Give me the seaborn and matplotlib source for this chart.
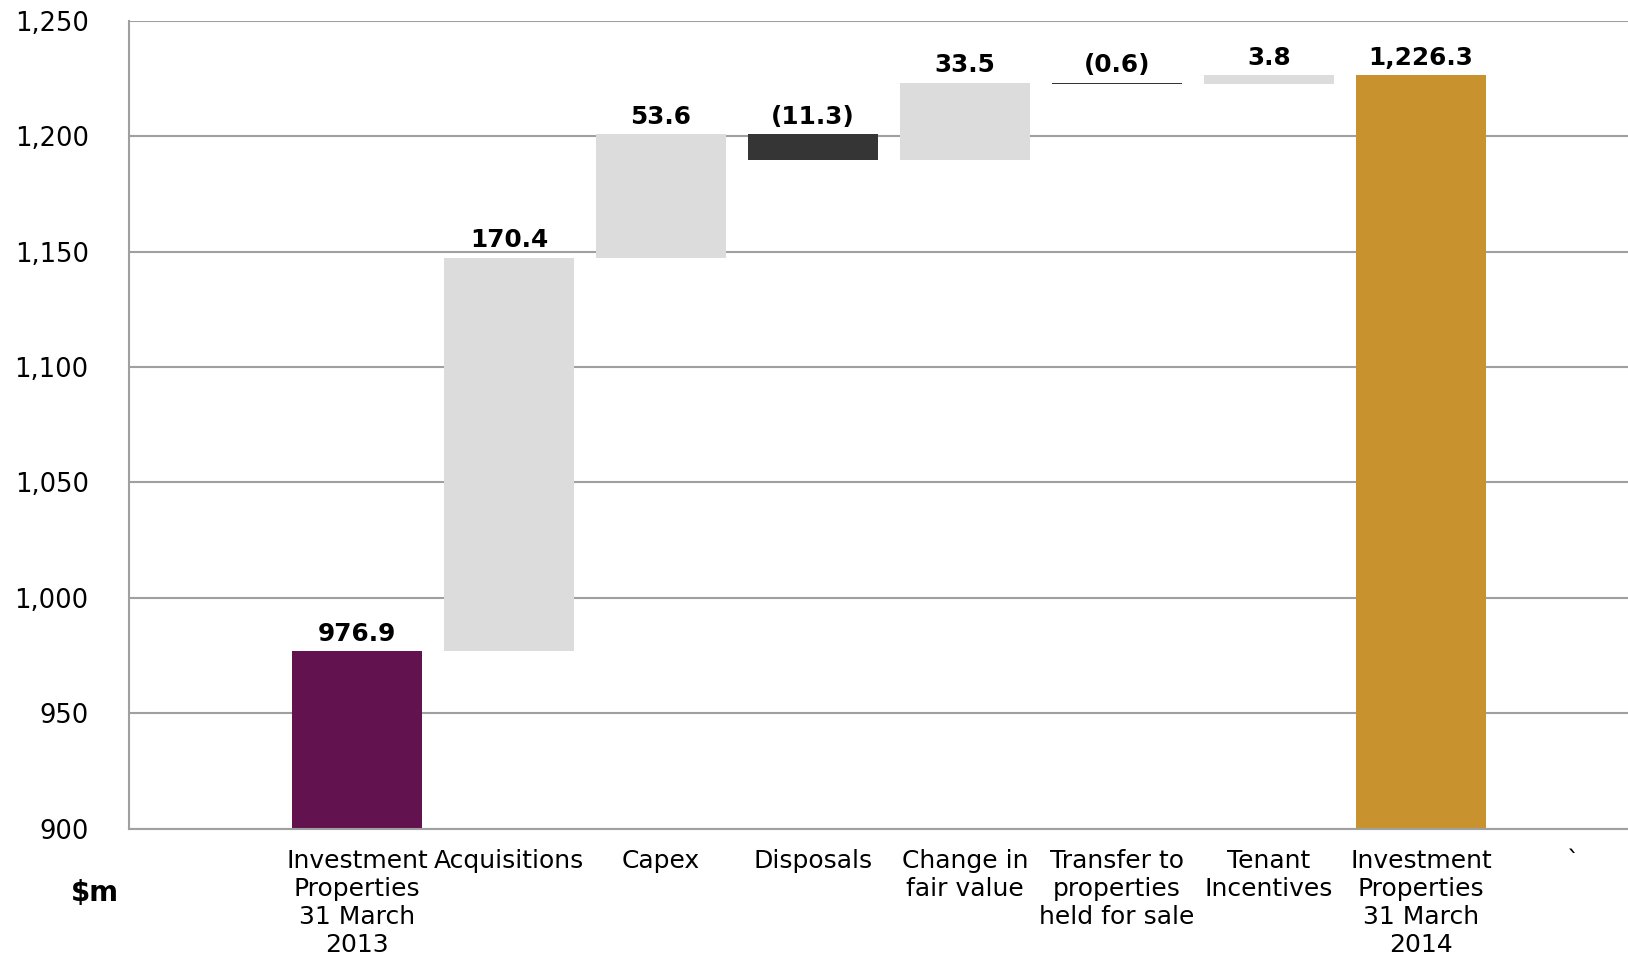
import numpy as np
import pandas as pd
import matplotlib
matplotlib.use("Agg")
import matplotlib.pyplot as plt
from matplotlib.ticker import FuncFormatter
import seaborn as sns

# Investment property bridge, $m
categories = ["",
              "Investment\nProperties\n31 March\n2013",
              "Acquisitions",
              "Capex",
              "Disposals",
              "Change in\nfair value",
              "Transfer to\nproperties\nheld for sale",
              "Tenant\nIncentives",
              "Investment\nProperties\n31 March\n2014",
              "`"]
opening_value = 976.9
movement_values = [170.4, 53.6, -11.3, 33.5, -0.6, 3.8]
closing_value = 1226.3
value_labels = ["976.9", "170.4", "53.6", "(11.3)", "33.5", "(0.6)", "3.8", "1,226.3"]
y_ticks = [900, 950, 1000, 1050, 1100, 1150, 1200, 1250]

PURPLE = "#62134F"
GOLD = "#C8922E"
LIGHT = "#DCDCDC"
DARK = "#353535"
GRID = "#A0A0A0"

sns.set_style("white")
plt.rcParams["font.family"] = ["DejaVu Sans"]

# Build waterfall segments: (category, bottom, height, colour)
segments = [(categories[1], 0.0, opening_value, PURPLE)]
running = opening_value
for cat, mv in zip(categories[2:8], movement_values):
    low = running + min(mv, 0)
    segments.append((cat, low, abs(mv), LIGHT if mv >= 0 else DARK))
    running += mv
segments.append((categories[8], 0.0, closing_value, GOLD))

fig = plt.figure(figsize=(16.28, 9.58), dpi=100)
ax = fig.add_axes([129 / 1628, (958 - 828.5) / 958, 1 - 129 / 1628, (828.5 - 20.8) / 958])

for cat, base, height, colour in segments:
    df = pd.DataFrame({"item": [cat], "value": [height]})
    sns.barplot(data=df, x="item", y="value", order=categories, color=colour,
                saturation=1, width=0.85, errorbar=None, bottom=base,
                linewidth=0, ax=ax)

# value labels above each bar
for (cat, base, height, colour), text in zip(segments, value_labels):
    xpos = categories.index(cat)
    ax.annotate(text, (xpos, base + height), xytext=(0, 7.5),
                textcoords="offset points", ha="center", va="baseline",
                fontsize=17.8, fontweight="bold", color="black")

ax.set_ylim(900, 1250)
ax.set_yticks(y_ticks)
ax.yaxis.set_major_formatter(FuncFormatter(lambda v, _: f"{v:,.0f}"))

# category labels at centres, boundary ticks between categories
ax.set_xticks(np.arange(len(categories)), labels=categories,
              linespacing=1.2, ha="center")
ax.set_xticks(np.arange(-0.5, len(categories), 1), minor=True)
# plot area runs to the right edge of the figure
ax.set_xlim(-0.5, -0.5 + (1628 - 129) / 152)

ax.set_xlabel("")
ax.set_ylabel("")

ax.yaxis.grid(True, color=GRID, linewidth=1.5)
ax.xaxis.grid(False)
ax.set_axisbelow(True)

for side in ["top", "right"]:
    ax.spines[side].set_visible(False)
for side in ["left", "bottom"]:
    ax.spines[side].set_color(GRID)
    ax.spines[side].set_linewidth(1.5)

ax.tick_params(axis="x", which="major", length=0, pad=15, labelsize=18,
               labelcolor="black")
ax.tick_params(axis="x", which="minor", length=8, width=1.5, color=GRID,
               direction="out")
ax.tick_params(axis="y", which="major", length=8, width=1.5, color=GRID,
               direction="out", pad=21, labelsize=18.5, labelcolor="black")

fig.text(95 / 1628, 1 - 893 / 958, "$m", ha="center", va="center",
         fontsize=20, fontweight="bold", color="black")

fig.savefig("out.png", dpi=100)
